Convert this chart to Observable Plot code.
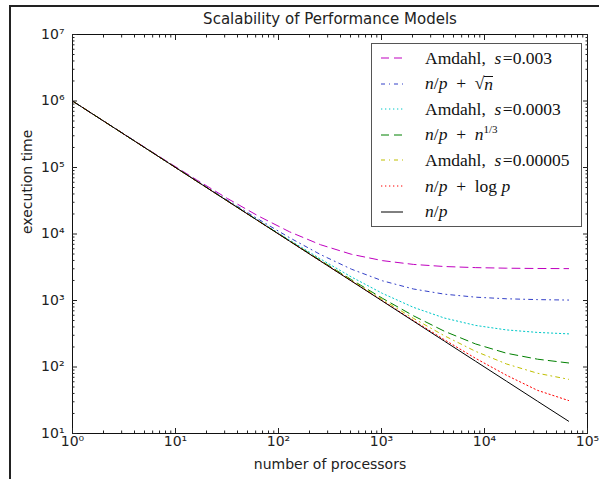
<!DOCTYPE html>
<html><head><meta charset="utf-8">
<script src="https://cdn.jsdelivr.net/npm/d3@7"></script>
<script src="https://cdn.jsdelivr.net/npm/@observablehq/plot@0.6"></script>
<style>
body{margin:0;background:#fff;}
#wrap{position:relative;width:599px;height:479px;overflow:hidden;background:#fff;}
#wrap > svg{position:absolute;left:0;top:0;}
#border{position:absolute;left:9px;top:5px;width:700px;height:600px;border-left:2px solid #222;border-top:2px solid #222;pointer-events:none;}
#legend{position:absolute;left:371px;top:43px;width:211px;height:184px;border:1px solid #555;background:#fff;font-family:"Liberation Serif","DejaVu Serif",serif;font-size:17.5px;color:#111;box-sizing:border-box;}
#legend .row{position:absolute;left:0;height:24px;display:flex;align-items:center;white-space:nowrap;}
#legend .row svg{position:static;display:block;margin-left:9px;margin-right:22px;flex:none;}
.ov{display:inline-block;border-top:1.5px solid #111;line-height:13px;padding-top:1px;vertical-align:-1px;}
sup{font-size:11px;vertical-align:7px;line-height:0;}
</style>
</head><body>
<div id="wrap"><div id="border"></div></div>
<script>
// ---- data ----
const processors = [1, 2, 4, 8, 16, 32, 64, 128, 256, 512, 1024, 2048, 4096, 8192, 16384, 32768, 65536];
const amdahl003   = [1000000, 501500, 252250, 127625, 65310, 34160, 18580, 10790, 6895, 4947, 3974, 3487, 3243, 3122, 3061, 3030, 3015];
const sqrtModel   = [1001000, 501000, 251000, 126000, 63500, 32250, 16625, 8812, 4906, 2953, 1977, 1488, 1244, 1122, 1061, 1031, 1015];
const amdahl0003  = [1000000, 500150, 250225, 125260, 62780, 31540, 15920, 8110, 4205, 2253, 1276, 788, 544, 422, 361, 331, 315];
const cbrtModel   = [1000100, 500100, 250100, 125100, 62600, 31350, 15725, 7912, 4006, 2053, 1077, 588, 344, 222, 161, 131, 115];
const amdahl00005 = [1000000, 500025, 250037, 125044, 62547, 31298, 15674, 7862, 3956, 2003, 1027, 538, 294, 172, 111, 80.5, 65.3];
const logModel    = [1000000, 500001, 250002, 125003, 62504, 31255, 15631, 7819, 3914, 1962, 987, 499, 256, 135, 75, 44.5, 31.3];
const idealModel  = [1000000, 500000, 250000, 125000, 62500, 31250, 15625, 7812, 3906, 1953, 977, 488, 244, 122, 61, 30.5, 15.3];

const seriesKeys = ["amdahl003", "sqrt", "amdahl0003", "cbrt", "amdahl00005", "log", "ideal"];
const seriesLabels = [
  'Amdahl, &nbsp;<i>s</i>&#8202;=0.003',
  '<i>n</i>/<i>p</i> &nbsp;+ &nbsp;&#8730;<span class="ov"><i>n</i></span>',
  'Amdahl, &nbsp;<i>s</i>&#8202;=0.0003',
  '<i>n</i>/<i>p</i> &nbsp;+ &nbsp;<i>n</i><sup>1/3</sup>',
  'Amdahl, &nbsp;<i>s</i>&#8202;=0.00005',
  '<i>n</i>/<i>p</i> &nbsp;+ &nbsp;log <i>p</i>',
  '<i>n</i>/<i>p</i>'
];
const seriesValues = [amdahl003, sqrtModel, amdahl0003, cbrtModel, amdahl00005, logModel, idealModel];

const majorX = [1, 10, 100, 1000, 10000, 100000];
const minorX = [2,3,4,5,6,7,8,9, 20,30,40,50,60,70,80,90, 200,300,400,500,600,700,800,900,
  2000,3000,4000,5000,6000,7000,8000,9000, 20000,30000,40000,50000,60000,70000,80000,90000];
const majorY = [10, 100, 1000, 10000, 100000, 1000000, 10000000];
const minorY = [20,30,40,50,60,70,80,90, 200,300,400,500,600,700,800,900,
  2000,3000,4000,5000,6000,7000,8000,9000, 20000,30000,40000,50000,60000,70000,80000,90000,
  200000,300000,400000,500000,600000,700000,800000,900000,
  2000000,3000000,4000000,5000000,6000000,7000000,8000000,9000000];

const titleText = "Scalability of Performance Models";
const xLabel = "number of processors";
const yLabel = "execution time";

// ---- styles ----
const colors = ["#bf00bf", "#3340c8", "#00c8c8", "#008000", "#bfbf00", "#ff0000", "#000000"];
const dashes = ["8,5", "4,4,1,4", "1.3,2.7", "8,5", "4,4,1,4", "1.3,2.7", null];

const rows = [];
seriesKeys.forEach((k, i) => processors.forEach((p, j) => rows.push({series: k, p, t: seriesValues[i][j]})));

const supDigits = "⁰¹²³⁴⁵⁶⁷⁸⁹";
const fmt = d => "10" + String(Math.round(Math.log10(d))).split("").map(c => supDigits[+c]).join("");

const lineMarks = seriesKeys.map((k, i) => Plot.line(rows.filter(r => r.series === k), {
  x: "p", y: "t", stroke: colors[i], strokeWidth: 1, strokeDasharray: dashes[i] || undefined
}));

const chart = Plot.plot({
  width: 599, height: 479,
  marginLeft: 72, marginRight: 12, marginTop: 34, marginBottom: 46,
  style: {fontFamily: "DejaVu Sans, sans-serif", fontSize: "14px", color: "#222", background: "transparent"},
  x: {type: "log", domain: [1, 100000]},
  y: {type: "log", domain: [10, 10000000]},
  marks: [
    ...lineMarks,
    Plot.frame({stroke: "#111", strokeWidth: 1}),
    Plot.axisX(majorX, {anchor: "bottom", tickSize: 0, tickPadding: 3, tickFormat: fmt, label: null}),
    Plot.axisX(majorX, {anchor: "bottom", tickSize: -5, fill: "none", label: null}),
    Plot.axisX(minorX, {anchor: "bottom", tickSize: -2.5, fill: "none", label: null}),
    Plot.axisX(majorX, {anchor: "top", tickSize: -5, fill: "none", label: null}),
    Plot.axisX(minorX, {anchor: "top", tickSize: -2.5, fill: "none", label: null}),
    Plot.axisY(majorY, {anchor: "left", tickSize: 0, tickPadding: 8, tickFormat: fmt, label: null}),
    Plot.axisY(majorY, {anchor: "left", tickSize: -5, fill: "none", label: null}),
    Plot.axisY(minorY, {anchor: "left", tickSize: -2.5, fill: "none", label: null}),
    Plot.axisY(majorY, {anchor: "right", tickSize: -5, fill: "none", label: null}),
    Plot.axisY(minorY, {anchor: "right", tickSize: -2.5, fill: "none", label: null}),
    Plot.text([titleText], {frameAnchor: "top", dy: -11, lineAnchor: "bottom", fontSize: 15, fill: "#222"}),
    Plot.text([xLabel], {frameAnchor: "bottom", dy: 31, lineAnchor: "middle", fontSize: 14, fill: "#222"}),
    Plot.text([yLabel], {frameAnchor: "left", dx: -45, rotate: -90, lineAnchor: "middle", fontSize: 14, fill: "#222"})
  ]
});

const wrap = document.getElementById("wrap");
wrap.insertBefore(chart, wrap.firstChild);

// legend
const legend = document.createElement("div");
legend.id = "legend";
seriesLabels.forEach((lab, i) => {
  const row = document.createElement("div");
  row.className = "row";
  row.style.top = (2 + 25.6 * i) + "px";
  const dash = dashes[i] ? `stroke-dasharray="${dashes[i]}"` : "";
  row.innerHTML = `<svg width="22" height="6"><line x1="0" y1="3" x2="22" y2="3" stroke="${colors[i]}" stroke-width="1" ${dash}/></svg><span>${lab}</span>`;
  legend.appendChild(row);
});
wrap.appendChild(legend);
</script>
</body></html>
